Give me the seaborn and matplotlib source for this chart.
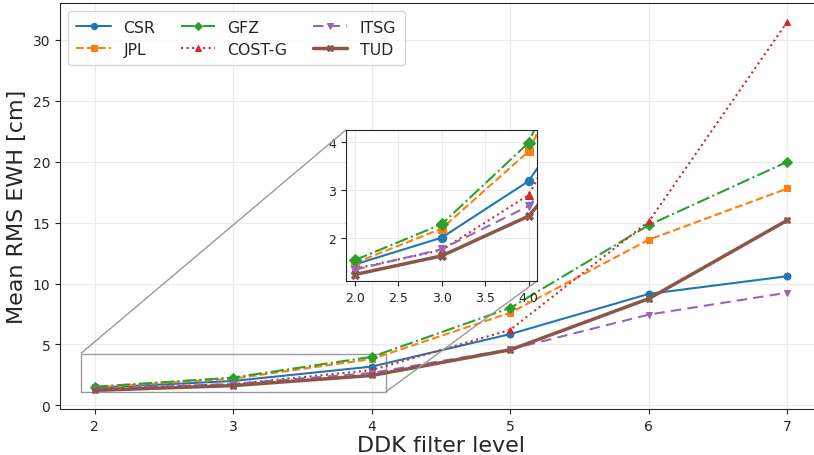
import numpy as np
import pandas as pd
import matplotlib
matplotlib.use("Agg")
import matplotlib.pyplot as plt
import seaborn as sns
from mpl_toolkits.axes_grid1.inset_locator import mark_inset

# ===== DATA =====
ddk_levels = [2, 3, 4, 5, 6, 7]
centers = ["CSR", "JPL", "GFZ", "COST-G", "ITSG", "TUD"]

csr = [1.44, 2.00, 3.18, 5.85, 9.15, 10.6]
jpl = [1.47, 2.19, 3.80, 7.6, 13.6, 17.8]
gfz = [1.53, 2.28, 3.98, 8.0, 14.8, 20.0]
cost_g = [1.35, 1.74, 2.89, 6.2, 15.1, 31.5]
itsg = [1.33, 1.76, 2.66, 4.6, 7.45, 9.25]
tud = [1.23, 1.62, 2.45, 4.56, 8.76, 15.2]

values = {"CSR": csr, "JPL": jpl, "GFZ": gfz, "COST-G": cost_g, "ITSG": itsg, "TUD": tud}

colors = {"CSR": "C0", "JPL": "C1", "GFZ": "C2", "COST-G": "C3", "ITSG": "C4", "TUD": "C5"}
markers = {"CSR": "o", "JPL": "s", "GFZ": "D", "COST-G": "^", "ITSG": "v", "TUD": "X"}
styles = {"CSR": "-", "JPL": "--", "GFZ": "-.", "COST-G": ":", "ITSG": (0, (5, 3)), "TUD": "-"}
widths = {"CSR": 1.5, "JPL": 1.5, "GFZ": 1.5, "COST-G": 1.5, "ITSG": 1.5, "TUD": 2.5}

df = pd.DataFrame([(c, x, v) for c in centers for x, v in zip(ddk_levels, values[c])],
                  columns=["center", "ddk", "ewh"])

sns.set_style("ticks", {"axes.grid": True, "grid.color": ".92", "axes.edgecolor": ".15"})
plt.rcParams["font.family"] = ["DejaVu Sans"]

fig = plt.figure(figsize=(8.14, 4.56), dpi=100)
ax = fig.add_axes([0.0737, 0.1009, 0.9363, 0.8897])

def draw(a, ms):
    for c in centers:
        sub = df[df["center"] == c]
        sns.lineplot(data=sub, x="ddk", y="ewh", ax=a, color=colors[c], marker=markers[c],
                     linestyle=styles[c], linewidth=widths[c], markersize=ms,
                     markeredgecolor=colors[c], label=c, legend=False)

draw(ax, 5)
ax.set_xlim(1.75, 7.25)
ax.set_ylim(-0.3, 33.0)
ax.set_xlabel("DDK filter level", fontsize=16, labelpad=2)
ax.set_ylabel("Mean RMS EWH [cm]", fontsize=16)
ax.tick_params(labelsize=10)
ax.legend(loc="upper left", ncol=3, fontsize=11.3, frameon=True, handlelength=2.2,
          columnspacing=1.6, labelspacing=0.45, borderpad=0.55, markerscale=0.9)

axins = fig.add_axes([0.425, 0.382, 0.235, 0.331])
draw(axins, 6)
axins.set_xlim(1.9, 4.1)
axins.set_ylim(1.1, 4.25)
axins.set_xlabel("")
axins.set_ylabel("")
axins.set_xticks([2.0, 2.5, 3.0, 3.5, 4.0])
axins.set_yticks([2, 3, 4])
axins.tick_params(labelsize=9)
axins.grid(True, color=".92")
mark_inset(ax, axins, loc1=2, loc2=4, fc="none", ec="0.6", lw=1.0)

fig.savefig("out.png", dpi=100)
